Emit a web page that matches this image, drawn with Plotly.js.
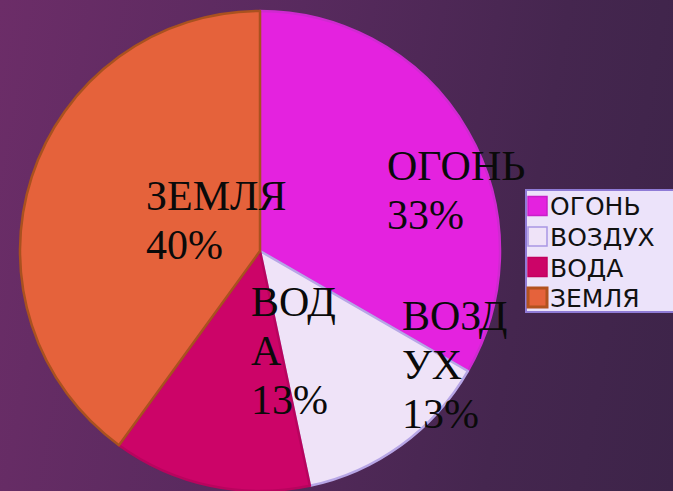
<!DOCTYPE html>
<html>
<head>
<meta charset="utf-8">
<script src="https://cdn.plot.ly/plotly-3.0.1.min.js"></script>
<style>
html,body{margin:0;padding:0;}
body{width:673px;height:491px;overflow:hidden;background:linear-gradient(100deg,#6c2d68 0%,#582a5e 40%,#45264f 75%,#3d2449 100%);}
#chart{width:673px;height:491px;}
</style>
</head>
<body>
<div id="chart"></div>
<script>
var categories = ['ОГОНЬ', 'ВОЗДУХ', 'ВОДА', 'ЗЕМЛЯ'];
var values = [5, 2, 2, 6];
var sliceLabelLines = [['ОГОНЬ'], ['ВОЗД', 'УХ'], ['ВОД', 'А'], ['ЗЕМЛЯ']];
var sliceColors = ['#e422df', '#efe3f8', '#cc0468', '#e5623b'];
var sliceLineColors = ['#cf2ad0', '#b7a6e6', '#b8045e', '#a9511f'];
var swatchLineColors = ['#c81fc8', '#a996e4', '#c2005f', '#b2521f'];

var total = values.reduce(function(a,b){return a+b;}, 0);
var pctText = values.map(function(v){ return Math.round(v/total*100) + '%'; });

var W = 673, H = 491;
function px(x){ return x / W; }
function py(y){ return 1 - y / H; }

// slice label placement: left edge and first-line cap top, in pixels
var labelPos = [[385, 155], [400, 305], [249, 291], [144, 185]];
var labelSize = 42, labelLineGap = 49;

var annotations = [];
categories.forEach(function(c, i){
  var lines = sliceLabelLines[i].concat([pctText[i]]);
  lines.forEach(function(t, k){
    annotations.push({
      xref: 'paper', yref: 'paper',
      x: px(labelPos[i][0]), y: py(labelPos[i][1] + k * labelLineGap - labelSize / 3),
      xanchor: 'left', yanchor: 'top', align: 'left',
      showarrow: false,
      text: t,
      font: {family: 'Liberation Serif, Times New Roman, serif', size: labelSize, color: '#0a0a0a'}
    });
  });
});

// legend box (drawn as shapes + text, one row per category)
var legBox = {x0: 526, x1: 690, y0: 190, y1: 312};
var rowTop = 206, rowStep = 30.5, sw = 19;
var shapes = [{
  type: 'rect', xref: 'paper', yref: 'paper', layer: 'above',
  x0: px(legBox.x0), x1: px(legBox.x1), y0: py(legBox.y0), y1: py(legBox.y1),
  fillcolor: '#ece3fa', line: {color: '#8f7bd6', width: 2}
}];
categories.forEach(function(c, i){
  var cy = rowTop + i * rowStep;
  shapes.push({
    type: 'rect', xref: 'paper', yref: 'paper', layer: 'above',
    x0: px(528), x1: px(528 + sw), y0: py(cy - sw/2), y1: py(cy + sw/2),
    fillcolor: sliceColors[i], line: {color: swatchLineColors[i], width: i === 3 ? 3 : 1.5}
  });
  annotations.push({
    xref: 'paper', yref: 'paper', x: px(548), y: py(cy + 1),
    xanchor: 'left', yanchor: 'middle', showarrow: false,
    text: c,
    font: {family: 'DejaVu Sans, Liberation Sans, sans-serif', size: 25, color: '#111'}
  });
});

var trace = {
  type: 'pie',
  labels: categories,
  values: values,
  sort: false,
  direction: 'clockwise',
  rotation: 0,
  textinfo: 'none',
  hoverinfo: 'label+percent',
  marker: {colors: sliceColors, line: {color: sliceLineColors, width: 2.5}},
  domain: {x: [18/673, 502/673], y: [0, 480/491]}
};

var layout = {
  width: W, height: H,
  margin: {l: 0, r: 0, t: 0, b: 0},
  paper_bgcolor: 'rgba(0,0,0,0)',
  plot_bgcolor: 'rgba(0,0,0,0)',
  showlegend: false,
  shapes: shapes,
  annotations: annotations
};

Plotly.newPlot('chart', [trace], layout, {displayModeBar: false, staticPlot: true});
</script>
</body>
</html>
